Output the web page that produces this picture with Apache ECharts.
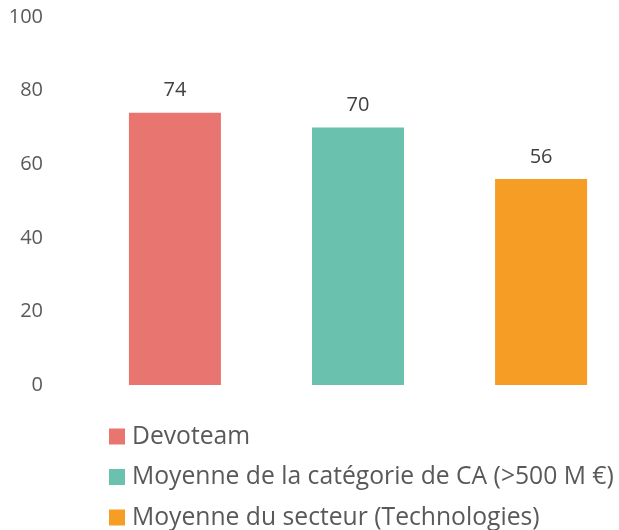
<!DOCTYPE html>
<html><head><meta charset="utf-8">
<script src="https://cdn.jsdelivr.net/npm/echarts@6/dist/echarts.min.js"></script>
<style>html,body{margin:0;padding:0;background:#fff}#c{width:619px;height:530px}</style>
</head><body><div id="c"></div>
<script>
const categories = [''];
const seriesNames = ['Devoteam', 'Moyenne de la catégorie de CA (>500 M €)', 'Moyenne du secteur (Technologies)'];
const seriesValues = [74, 70, 56];
const seriesColors = ['#E8756F', '#69C1AE', '#F59D25'];
const yTicks = { min: 0, max: 100, interval: 20 };

const FONT = 'Open Sans';
const chart = echarts.init(document.getElementById('c'), null, { renderer: 'canvas' });
chart.setOption({
  animation: false,
  textStyle: { fontFamily: FONT },
  grid: { left: 100, right: 3, top: 17, bottom: 145, containLabel: false },
  legend: {
    orient: 'vertical', left: 109, top: 424, padding: 0,
    itemWidth: 16, itemHeight: 16, itemGap: 15.5,
    icon: 'rect',
    textStyle: { fontFamily: FONT, fontSize: 24.7, color: '#595959', lineHeight: 24, padding: [0, 0, 0, 2] },
    data: seriesNames
  },
  xAxis: {
    type: 'category', data: categories,
    axisLine: { show: false }, axisTick: { show: false }, axisLabel: { show: false }
  },
  yAxis: {
    type: 'value', min: yTicks.min, max: yTicks.max, interval: yTicks.interval,
    axisLine: { show: false }, axisTick: { show: false }, splitLine: { show: false },
    axisLabel: { fontFamily: FONT, fontSize: 20, color: '#595959', margin: 57 }
  },
  series: seriesNames.map((n, i) => ({
    name: n, type: 'bar', barWidth: 92, barGap: '99%',
    itemStyle: { color: seriesColors[i] },
    label: { show: true, position: 'top', distance: 12, fontFamily: FONT, fontSize: 20, color: '#404040' },
    data: [seriesValues[i]]
  }))
});
</script></body></html>
